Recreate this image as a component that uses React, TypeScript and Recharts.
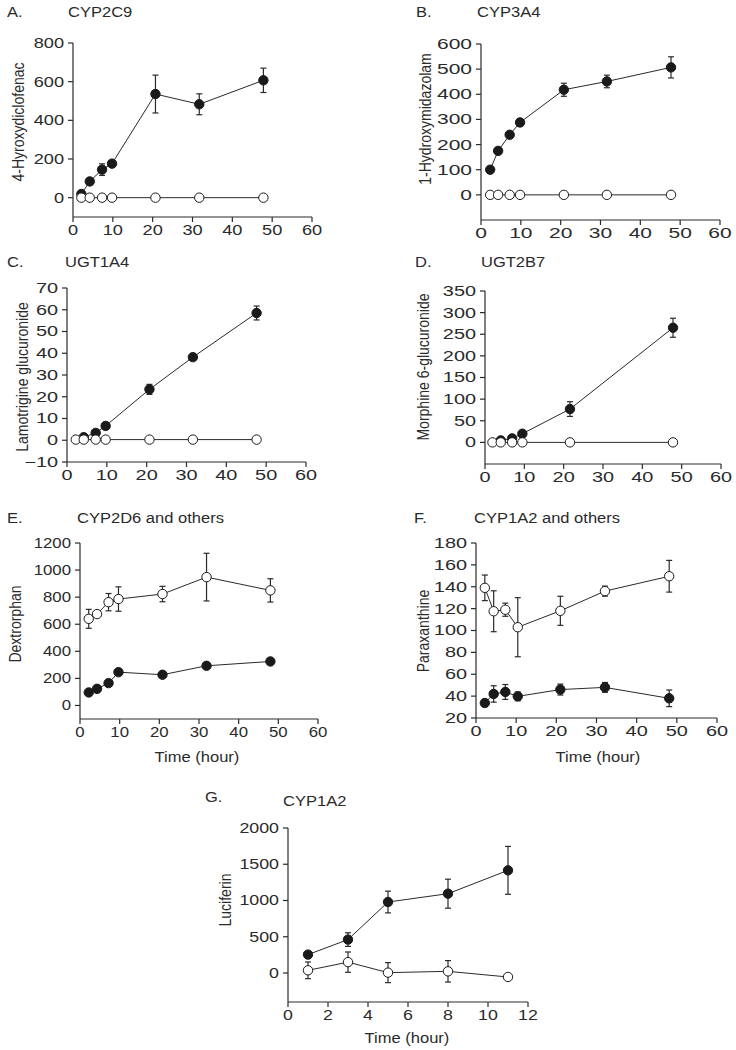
import React from "react";
import { ComposedChart, Line, XAxis, YAxis, ErrorBar } from "recharts";

const FONT = '"Liberation Sans", Arial, Helvetica, sans-serif';
const INK = "#2a2a2a";

// A. CYP2C9 – 4-hydroxydiclofenac
const timeA = [2.1, 4.2, 7.3, 9.8, 20.7, 31.7, 47.8];
const cyp2c9Filled = [19, 84, 145, 176, 536, 483, 607];
const cyp2c9FilledErr = [6, 10, 30, 10, 98, 54, 63];
const cyp2c9Open = [0, 0, 0, 0, 0, 0, 0];

// B. CYP3A4 – 1-hydroxymidazolam
const timeB = [2.3, 4.3, 7.2, 9.8, 20.8, 31.6, 47.7];
const cyp3a4Filled = [100, 175, 239, 288, 418, 451, 507];
const cyp3a4FilledErr = [5, 8, 10, 15, 26, 25, 42];
const cyp3a4Open = [0, 0, 0, 0, 0, 0, 0];

// C. UGT1A4 – lamotrigine glucuronide
const timeCFilled = [4.2, 7.2, 9.7, 20.7, 31.6, 47.6];
const ugt1a4Filled = [1.4, 3.4, 6.6, 23.4, 38.2, 58.5];
const ugt1a4FilledErr = [0.5, 0.8, 1, 2.3, 1, 3.2];
const timeCOpen = [2.2, 4.2, 7.2, 9.7, 20.7, 31.6, 47.6];
const ugt1a4Open = [0.3, 0.3, 0.3, 0.3, 0.3, 0.3, 0.3];

// D. UGT2B7 – morphine 6-glucuronide
const timeDFilled = [4, 6.9, 9.5, 21.6, 47.8];
const ugt2b7Filled = [4.6, 9.2, 20, 77, 265];
const ugt2b7FilledErr = [2, 3, 4, 17, 22];
const timeDOpen = [1.9, 4, 6.9, 9.5, 21.6, 47.8];
const ugt2b7Open = [0, 0, 0, 0, 0, 0];

// E. CYP2D6 and others – dextrorphan
const timeE = [2.2, 4.3, 7.2, 9.7, 20.8, 31.9, 48];
const cyp2d6Filled = [96, 123, 165, 246, 227, 293, 325];
const cyp2d6FilledErr = [0, 0, 0, 0, 0, 0, 0];
const cyp2d6Open = [640, 675, 763, 786, 823, 948, 850];
const cyp2d6OpenErr = [70, 20, 64, 90, 57, 176, 86];

// F. CYP1A2 and others – paraxanthine
const timeF = [2.2, 4.4, 7.3, 10.4, 21, 32.1, 48.1];
const cyp1a2oFilled = [33.7, 42, 43.8, 39.8, 46, 48, 38];
const cyp1a2oFilledErr = [3, 7.5, 6.8, 4, 5, 4.5, 7.6];
const cyp1a2oOpen = [139, 117.6, 119, 103, 118, 136, 149.6];
const cyp1a2oOpenErr = [11.7, 18.7, 6, 27, 13.3, 4.6, 14.5];

// G. CYP1A2 – luciferin
const timeG = [1, 3, 5, 8, 11];
const cyp1a2Filled = [254, 461, 979, 1094, 1416];
const cyp1a2FilledErr = [30, 94, 150, 200, 330];
const cyp1a2Open = [37, 150, 5, 23, -55];
const cyp1a2OpenErr = [115, 140, 138, 148, 0];

const ticks60 = [0, 10, 20, 30, 40, 50, 60];
const ticks12 = [0, 2, 4, 6, 8, 10, 12];

const rows = (xs: number[], ys: number[], errs?: number[]) =>
  xs.map((x, i) => ({ x, y: ys[i], err: errs ? errs[i] : 0 }));

const fmt = (v: number) => (v < 0 ? "\u2212" + Math.abs(v) : String(v));

// the source figure is stretched sideways a bit, differently per panel
const makeTick = (k: number, axis: "x" | "y") => (p: any) => (
  <g transform={`translate(${p.x},${p.y}) scale(${k},1)`}>
    <text
      x={0}
      y={0}
      dy={axis === "x" ? "0.71em" : "0.355em"}
      textAnchor={axis === "x" ? "middle" : "end"}
      fill={INK}
      fontSize={14}
      fontFamily={FONT}
    >
      {fmt(p.payload.value)}
    </text>
  </g>
);

interface PanelProps {
  box: [number, number, number, number]; // left, right, top, bottom of plot area
  stretch: number;
  xDomain: [number, number];
  xTicks: number[];
  yDomain: [number, number];
  yTicks: number[];
  filled: { x: number; y: number; err: number }[];
  open: { x: number; y: number; err: number }[];
}

const YW = 60;
const TOP = 12;
const RIGHT = 14;
const XH = 30;

function Panel({ box, stretch, xDomain, xTicks, yDomain, yTicks, filled, open }: PanelProps) {
  const [l, r, t, b] = box;
  const w = YW + (r - l) + RIGHT;
  const h = TOP + (b - t) + XH;
  return (
    <div style={{ position: "absolute", left: l - YW, top: t - TOP }}>
      <ComposedChart width={w} height={h} margin={{ top: TOP, right: RIGHT, bottom: 0, left: 0 }}>
        <XAxis
          dataKey="x"
          type="number"
          domain={xDomain}
          ticks={xTicks}
          interval={0}
          height={XH}
          tick={makeTick(stretch, "x")}
          tickSize={5}
          tickMargin={3}
          stroke={INK}
          strokeWidth={1.2}
          allowDataOverflow
        />
        <YAxis
          type="number"
          domain={yDomain}
          ticks={yTicks}
          interval={0}
          width={YW}
          tick={makeTick(stretch, "y")}
          tickSize={5}
          tickMargin={4}
          stroke={INK}
          strokeWidth={1.2}
          allowDataOverflow
        />
        <Line
          data={filled}
          dataKey="y"
          stroke={INK}
          strokeWidth={1}
          dot={{ r: 4.7, fill: "#1a1a1a", stroke: "#1a1a1a", strokeWidth: 1 }}
          activeDot={false}
          isAnimationActive={false}
        >
          <ErrorBar dataKey="err" width={3} stroke={INK} strokeWidth={1.2} direction="y" />
        </Line>
        <Line
          data={open}
          dataKey="y"
          stroke={INK}
          strokeWidth={1}
          dot={{ r: 4.7, fill: "#ffffff", stroke: "#1a1a1a", strokeWidth: 1 }}
          activeDot={false}
          isAnimationActive={false}
        >
          <ErrorBar dataKey="err" width={3} stroke={INK} strokeWidth={1.2} direction="y" />
        </Line>
      </ComposedChart>
    </div>
  );
}

const textStyle: React.CSSProperties = {
  position: "absolute",
  fontFamily: FONT,
  fontSize: 14,
  lineHeight: "16px",
  color: INK,
  whiteSpace: "nowrap",
};

function Txt({ x, y, children }: { x: number; y: number; children: React.ReactNode }) {
  return (
    <div style={{ ...textStyle, left: x, top: y - 8, transform: "scaleX(1.18)", transformOrigin: "0 50%" }}>
      {children}
    </div>
  );
}

function YLabel({ x, y, children }: { x: number; y: number; children: React.ReactNode }) {
  return (
    <div
      style={{
        ...textStyle,
        left: x,
        top: y,
        transform: "translate(-50%, -50%) rotate(-90deg) scaleY(1.18)",
      }}
    >
      {children}
    </div>
  );
}

function XLabel({ x, y, children }: { x: number; y: number; children: React.ReactNode }) {
  return (
    <div style={{ ...textStyle, left: x, top: y, transform: "translate(-50%, -50%) scaleX(1.18)" }}>
      {children}
    </div>
  );
}

export default function App() {
  return (
    <div
      style={{
        position: "absolute",
        left: 0,
        top: 0,
        width: 736,
        height: 1050,
        background: "#fff",
        overflow: "hidden",
      }}
    >
      <Panel
        box={[73, 312, 43, 217]}
        stretch={1.3}
        xDomain={[0, 60]}
        xTicks={ticks60}
        yDomain={[-100, 800]}
        yTicks={[0, 200, 400, 600, 800]}
        filled={rows(timeA, cyp2c9Filled, cyp2c9FilledErr)}
        open={rows(timeA, cyp2c9Open)}
      />
      <Panel
        box={[481, 720, 44, 220]}
        stretch={1.5}
        xDomain={[0, 60]}
        xTicks={ticks60}
        yDomain={[-100, 600]}
        yTicks={[0, 100, 200, 300, 400, 500, 600]}
        filled={rows(timeB, cyp3a4Filled, cyp3a4FilledErr)}
        open={rows(timeB, cyp3a4Open)}
      />
      <Panel
        box={[67, 306, 288, 462]}
        stretch={1.42}
        xDomain={[0, 60]}
        xTicks={ticks60}
        yDomain={[-10, 70]}
        yTicks={[-10, 0, 10, 20, 30, 40, 50, 60, 70]}
        filled={rows(timeCFilled, ugt1a4Filled, ugt1a4FilledErr)}
        open={rows(timeCOpen, ugt1a4Open)}
      />
      <Panel
        box={[485, 721, 291, 464]}
        stretch={1.42}
        xDomain={[0, 60]}
        xTicks={ticks60}
        yDomain={[-50, 350]}
        yTicks={[0, 50, 100, 150, 200, 250, 300, 350]}
        filled={rows(timeDFilled, ugt2b7Filled, ugt2b7FilledErr)}
        open={rows(timeDOpen, ugt2b7Open)}
      />
      <Panel
        box={[80, 318, 543, 719]}
        stretch={1.2}
        xDomain={[0, 60]}
        xTicks={ticks60}
        yDomain={[-100, 1200]}
        yTicks={[0, 200, 400, 600, 800, 1000, 1200]}
        filled={rows(timeE, cyp2d6Filled, cyp2d6FilledErr)}
        open={rows(timeE, cyp2d6Open, cyp2d6OpenErr)}
      />
      <Panel
        box={[476, 717, 543, 718]}
        stretch={1.42}
        xDomain={[0, 60]}
        xTicks={ticks60}
        yDomain={[20, 180]}
        yTicks={[20, 40, 60, 80, 100, 120, 140, 160, 180]}
        filled={rows(timeF, cyp1a2oFilled, cyp1a2oFilledErr)}
        open={rows(timeF, cyp1a2oOpen, cyp1a2oOpenErr)}
      />
      <Panel
        box={[288, 528, 828, 1002]}
        stretch={1.27}
        xDomain={[0, 12]}
        xTicks={ticks12}
        yDomain={[-400, 2000]}
        yTicks={[0, 500, 1000, 1500, 2000]}
        filled={rows(timeG, cyp1a2Filled, cyp1a2FilledErr)}
        open={rows(timeG, cyp1a2Open, cyp1a2OpenErr)}
      />

      <Txt x={7} y={12}>A.</Txt>
      <Txt x={68} y={12}>CYP2C9</Txt>
      <Txt x={416} y={12}>B.</Txt>
      <Txt x={477} y={12}>CYP3A4</Txt>
      <Txt x={7} y={262}>C.</Txt>
      <Txt x={65} y={262}>UGT1A4</Txt>
      <Txt x={415} y={262}>D.</Txt>
      <Txt x={481} y={262}>UGT2B7</Txt>
      <Txt x={7} y={518}>E.</Txt>
      <Txt x={77} y={518}>CYP2D6 and others</Txt>
      <Txt x={414} y={518}>F.</Txt>
      <Txt x={474} y={518}>CYP1A2 and others</Txt>
      <Txt x={205} y={797}>G.</Txt>
      <Txt x={283} y={801}>CYP1A2</Txt>

      <YLabel x={18} y={122}>4-Hyroxydiclofenac</YLabel>
      <YLabel x={425} y={119}>1-Hydroxymidazolam</YLabel>
      <YLabel x={22} y={377}>Lamotrigine glucuronide</YLabel>
      <YLabel x={423} y={367}>Morphine 6-glucuronide</YLabel>
      <YLabel x={15} y={624}>Dextrorphan</YLabel>
      <YLabel x={423} y={631}>Paraxanthine</YLabel>
      <YLabel x={225} y={900}>Luciferin</YLabel>

      <XLabel x={197} y={757}>Time (hour)</XLabel>
      <XLabel x={598} y={757}>Time (hour)</XLabel>
      <XLabel x={407} y={1038}>Time (hour)</XLabel>
    </div>
  );
}
